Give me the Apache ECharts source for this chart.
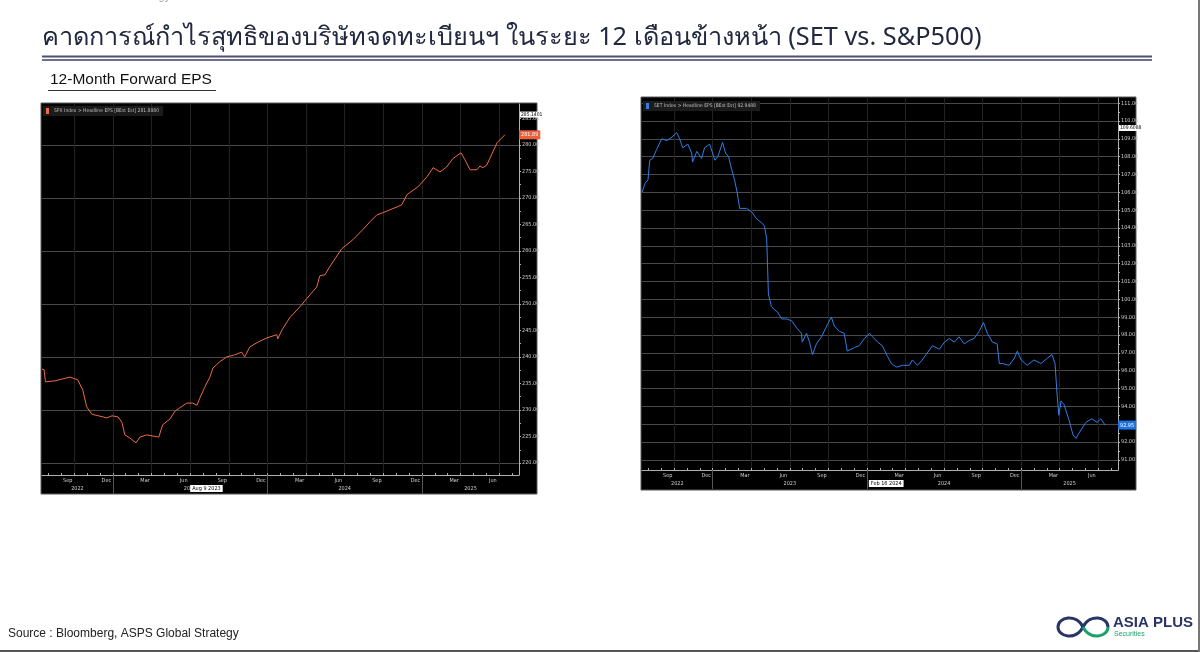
<!DOCTYPE html>
<html><head><meta charset="utf-8">
<script src="https://cdn.jsdelivr.net/npm/echarts@6/dist/echarts.min.js"></script>
<style>html,body{margin:0;padding:0;background:#fff}#c{width:1200px;height:652px}</style>
</head><body><div id="c"></div><script>
// ---- data ----
const monthNames = ['Jan','Feb','Mar','Apr','May','Jun','Jul','Aug','Sep','Oct','Nov','Dec'];
const xStartDate = '2022-07-16';
const xEndDate = '2025-08-17';

const spxName = 'SPX Index > Headline EPS [BEst Est]';
const spxDates = ['2022-07-16','2022-07-21','2022-07-24','2022-08-16','2022-09-21','2022-10-09','2022-10-21','2022-10-30','2022-11-12','2022-12-08','2022-12-17','2022-12-29','2023-01-13','2023-01-22','2023-01-29','2023-02-11','2023-02-25','2023-03-04','2023-03-20','2023-04-04','2023-04-18','2023-04-27','2023-05-14','2023-05-26','2023-06-07','2023-06-23','2023-07-07','2023-07-17','2023-07-24','2023-08-05','2023-08-17','2023-08-24','2023-09-10','2023-09-26','2023-10-15','2023-11-01','2023-11-08','2023-11-20','2023-12-09','2023-12-30','2024-01-23','2024-01-25','2024-02-05','2024-02-23','2024-03-16','2024-04-10','2024-04-26','2024-05-03','2024-05-15','2024-05-26','2024-06-24','2024-07-20','2024-08-13','2024-08-30','2024-09-16','2024-09-30','2024-11-03','2024-11-14','2024-11-26','2024-12-22','2025-01-13','2025-01-27','2025-02-13','2025-02-28','2025-03-13','2025-04-02','2025-04-11','2025-04-23','2025-05-09','2025-05-16','2025-05-23','2025-06-02','2025-06-26','2025-07-14'];
const spxEps = [237.7,237.6,235.3,235.5,236.2,235.7,233.8,230.6,229.2,228.7,228.5,228.9,228.7,227.7,225.3,224.7,223.8,224.9,225.3,225.1,224.9,227.2,228.3,229.8,230.4,231.3,231.3,230.9,232.3,234.3,236.2,237.9,239.1,240.0,240.4,240.9,240.0,241.9,242.8,243.6,244.2,243.4,245.1,247.4,249.4,251.7,253.2,255.3,255.5,257.0,260.4,262.1,264.0,265.5,266.8,267.2,268.3,268.7,270.6,272.1,274.0,275.7,274.9,275.8,277.4,278.5,277.2,275.3,275.3,276.0,275.7,276.2,280.4,281.888];
const spxHigh = 285.1401;
const spxYLabels = [220,225,230,235,240,245,250,255,260,265,270,275,280,285];
const spxYGrid = [220,230,240,250,260,270,280];
const spxTagDate = '2023-08-09';
const spxTagText = 'Aug 9 2023';

const setName = 'SET Index > Headline EPS [BEst Est]';
const setDates = ['2022-07-16','2022-07-23','2022-07-30','2022-08-04','2022-08-11','2022-08-20','2022-09-02','2022-09-14','2022-09-26','2022-10-07','2022-10-14','2022-10-21','2022-11-03','2022-11-12','2022-11-14','2022-11-24','2022-12-05','2022-12-12','2022-12-24','2023-01-06','2023-01-13','2023-01-24','2023-02-01','2023-02-08','2023-02-15','2023-02-22','2023-02-28','2023-03-04','2023-03-08','2023-03-20','2023-04-02','2023-04-14','2023-04-25','2023-05-02','2023-05-07','2023-05-09','2023-05-11','2023-05-18','2023-05-26','2023-06-02','2023-06-12','2023-06-23','2023-07-05','2023-07-17','2023-07-28','2023-07-30','2023-08-10','2023-08-17','2023-08-24','2023-09-03','2023-09-15','2023-09-29','2023-10-08','2023-10-15','2023-10-27','2023-11-08','2023-11-15','2023-12-02','2023-12-13','2023-12-25','2024-01-07','2024-01-14','2024-01-26','2024-02-07','2024-02-19','2024-02-28','2024-03-10','2024-03-24','2024-04-10','2024-04-17','2024-04-29','2024-05-10','2024-05-22','2024-06-04','2024-06-20','2024-07-02','2024-07-13','2024-07-25','2024-08-06','2024-08-18','2024-08-30','2024-09-11','2024-09-23','2024-10-03','2024-10-12','2024-10-24','2024-11-05','2024-11-10','2024-11-17','2024-12-03','2024-12-15','2024-12-22','2025-01-01','2025-01-15','2025-02-01','2025-02-17','2025-03-02','2025-03-13','2025-03-20','2025-03-25','2025-03-29','2025-04-04','2025-04-11','2025-04-23','2025-05-02','2025-05-09','2025-05-16','2025-06-02','2025-06-16','2025-06-28','2025-07-07','2025-07-17'];
const setEps = [106.0,106.5,106.7,107.8,107.9,108.4,109.0,108.9,109.1,109.35,109.0,108.5,108.7,108.2,107.7,108.3,107.9,108.5,108.7,107.8,108.0,108.8,108.2,108.0,107.3,106.7,106.0,105.1,105.2,105.1,104.9,104.5,104.3,104.1,103.4,101.9,100.3,99.6,99.4,99.3,98.9,98.9,98.8,98.4,98.1,97.6,98.1,97.6,96.9,97.5,97.9,98.6,99.0,98.5,98.2,98.1,97.1,97.3,97.4,97.8,98.1,97.9,97.6,97.4,96.8,96.4,96.2,96.3,96.3,96.6,96.3,96.6,97.0,97.4,97.2,97.6,97.8,97.6,97.9,97.5,97.7,97.8,98.2,98.7,98.1,97.6,97.5,96.4,96.4,96.3,96.7,97.1,96.6,96.3,96.6,96.4,96.7,96.9,96.4,94.6,93.5,94.3,94.1,93.2,92.4,92.2,92.5,93.1,93.3,93.1,93.3,92.9488];
const setHigh = 109.6088;
const setYLabels = [91,92,93,94,95,96,97,98,99,100,101,102,103,104,105,106,107,108,109,110,111];
const setYGrid = [91,92,93,94,95,96,97,98,99,100,101,102,103,104,105,106,107,108,109,110,111];
const setTagDate = '2024-02-16';
const setTagText = 'Feb 16 2024';

// ---- helpers ----
function toM(s){const p=s.split('-').map(Number);return (p[0]-2022)*12+(p[1]-1)+(p[2]-1)/30;}
const xMin = toM(xStartDate), xMax = toM(xEndDate);
const quarterStarts=[], monthStarts=[], monthLabelPos=[], yearBounds=[], yearMids=[];
for(let m=Math.ceil(xMin); m<=xMax; m++){
  monthStarts.push(m);
  if(m%3===0) quarterStarts.push(m);
  if(m%12===0) yearBounds.push(m);
  if(m%3===2 && m+0.5<=xMax) monthLabelPos.push(m+0.5);
}
for(let y=Math.floor(xMin/12); y<=Math.floor(xMax/12); y++){
  const lo=Math.max(xMin,y*12), hi=Math.min(xMax,(y+1)*12); yearMids.push((lo+hi)/2);
}
function halfSteps(arr, step){const out=[];for(let v=arr[0];v<=arr[arr.length-1]+1e-9;v+=step)out.push(+v.toFixed(3));return out;}

const lblFont = '"Liberation Sans Narrow","DejaVu Sans Condensed","Liberation Sans",Arial,sans-serif';
const gridCol = '#4a4a4a', vGridCol = '#222', axisCol = '#b0b0b0', lblCol = '#cfcfcf';

const grids = [
  {left:42, right:681, top:104, bottom:177, yMin:217.74, yMax:287.7, dates:spxDates, vals:spxEps, name:spxName, color:'#ec6a44', badge:'#e8603c', high:spxHigh, yLabels:spxYLabels, yGrid:spxYGrid, minor:2.5, tagDate:spxTagDate, tagText:spxTagText, hiAlign:'bottom', legendTop:106, legendLeft:43},
  {left:642, right:82, top:98, bottom:182, yMin:90.43, yMax:111.29, dates:setDates, vals:setEps, name:setName, color:'#2f7fe6', badge:'#1f73e0', high:setHigh, yLabels:setYLabels, yGrid:setYGrid, minor:0.5, tagDate:setTagDate, tagText:setTagText, hiAlign:'middle', legendTop:101, legendLeft:643}
];

const option = {animation:false, backgroundColor:'#fff', grid:[], xAxis:[], yAxis:[], series:[], legend:[], graphic:{elements:[]}};

grids.forEach((g,gi)=>{
  option.grid.push({left:g.left,right:g.right,top:g.top,bottom:g.bottom,containLabel:false});
  const base = {type:'value', gridIndex:gi, min:xMin, max:xMax, position:'bottom'};
  const xi = option.xAxis.length;
  option.xAxis.push(Object.assign({}, base, {
    axisLine:{show:true,onZero:false,lineStyle:{color:axisCol,width:1}},
    axisTick:{show:false,customValues:quarterStarts},
    splitLine:{show:true,lineStyle:{color:vGridCol,width:1}},
    axisLabel:{customValues:monthLabelPos,formatter:v=>monthNames[Math.floor(v)%12],color:lblCol,fontSize:5.5,margin:3,fontFamily:lblFont}
  }));
  option.xAxis.push(Object.assign({}, base, {
    axisLine:{show:false,onZero:false}, splitLine:{show:false},
    axisTick:{show:true,inside:true,length:2,customValues:monthStarts,lineStyle:{color:axisCol}},
    axisLabel:{show:false}
  }));
  option.xAxis.push(Object.assign({}, base, {
    axisLine:{show:false,onZero:false}, splitLine:{show:false},
    axisTick:{show:true,length:19,customValues:yearBounds,lineStyle:{color:'#555'}},
    axisLabel:{customValues:yearMids,formatter:v=>String(2022+Math.floor(v/12)),color:lblCol,fontSize:5.5,margin:11,fontFamily:lblFont}
  }));
  option.xAxis.push(Object.assign({}, base, {
    axisLine:{show:false,onZero:false}, splitLine:{show:false}, axisTick:{show:false},
    axisLabel:{customValues:[toM(g.tagDate)],formatter:()=>g.tagText,color:'#000',backgroundColor:'#fff',padding:[1,2,0,2],fontSize:5.5,margin:10,fontFamily:lblFont}
  }));
  const yi = option.yAxis.length;
  const ybase = {type:'value', gridIndex:gi, min:g.yMin, max:g.yMax, position:'right'};
  option.yAxis.push(Object.assign({}, ybase, {
    axisLine:{show:true,lineStyle:{color:axisCol}},
    axisTick:{show:false,customValues:g.yGrid},
    splitLine:{show:true,lineStyle:{color:gridCol,width:1}},
    axisLabel:{customValues:g.yLabels,formatter:v=>v.toFixed(2),color:lblCol,fontSize:5.5,margin:3,fontFamily:lblFont}
  }));
  option.yAxis.push(Object.assign({}, ybase, {
    axisLine:{show:false}, splitLine:{show:false},
    axisTick:{show:true,length:2,customValues:halfSteps(g.yLabels,g.minor),lineStyle:{color:axisCol}},
    axisLabel:{show:false}
  }));
  option.yAxis.push(Object.assign({}, ybase, {
    axisLine:{show:false}, splitLine:{show:false}, axisTick:{show:false},
    axisLabel:{customValues:[g.high],formatter:v=>v.toFixed(4),color:'#000',backgroundColor:'#fff',padding:[1,1,0,1],fontSize:5,margin:1,verticalAlign:g.hiAlign,fontFamily:lblFont}
  }));
  const last = g.vals[g.vals.length-1];
  option.yAxis.push(Object.assign({}, ybase, {
    axisLine:{show:false}, splitLine:{show:false}, axisTick:{show:false},
    axisLabel:{customValues:[last],formatter:v=>v.toFixed(2),color:'#fff',backgroundColor:g.badge,padding:[2,2,1,2],fontSize:5.5,margin:0,fontFamily:lblFont}
  }));
  option.series.push({
    type:'line', name:g.name, xAxisIndex:xi, yAxisIndex:yi, symbol:'none',
    lineStyle:{color:g.color,width:1}, itemStyle:{color:g.color},
    data:g.dates.map((d,i)=>[toM(d), g.vals[i]])
  });
  option.legend.push({
    data:[g.name], left:g.legendLeft, top:g.legendTop, orient:'horizontal', icon:'rect', itemWidth:3, itemHeight:6, itemGap:3,
    backgroundColor:'#1b1b1b', padding:[2,4,2,3], selectedMode:false,
    textStyle:{color:'#bdbdbd',fontSize:5,fontFamily:lblFont},
    formatter:n=>n+' '+last.toFixed(4)
  });
});

const E = option.graphic.elements;
E.push({type:'rect',z:-10,shape:{x:41,y:103,width:496,height:391},style:{fill:'#000',stroke:'#5a5a5a',lineWidth:1}});
E.push({type:'rect',z:-10,shape:{x:641,y:97,width:495,height:393},style:{fill:'#000',stroke:'#5a5a5a',lineWidth:1}});
E.push({type:'text',x:62,y:-9,style:{text:'ASPS Global Strategy',fill:'#9a9a9a',font:'11px "Liberation Sans", Arial, sans-serif'}});
E.push({type:'text',x:42,y:25,style:{text:'คาดการณ์กำไรสุทธิของบริษัทจดทะเบียนฯ ในระยะ 12 เดือนข้างหน้า (SET vs. S&P500)',fill:'#22283f',font:'25.3px "Noto Sans", "DejaVu Sans", sans-serif'}});
E.push({type:'rect',shape:{x:42,y:55.5,width:1110,height:2},style:{fill:'#4b5170'}});
E.push({type:'rect',shape:{x:42,y:59,width:1110,height:2},style:{fill:'#6b7090'}});
E.push({type:'text',x:50,y:72,style:{text:'12-Month Forward EPS',fill:'#111',font:'15.5px "Liberation Sans", Arial, sans-serif'}});
E.push({type:'rect',shape:{x:48,y:90,width:168,height:1},style:{fill:'#333'}});
E.push({type:'text',x:8,y:628,style:{text:'Source : Bloomberg, ASPS Global Strategy',fill:'#222',font:'12px "Liberation Sans", Arial, sans-serif'}});
const navy='#2a3566', green='#1aa06a';
E.push({type:'bezierCurve',shape:{x1:1083,y1:627,x2:1058,y2:627,cpx1:1076,cpy1:613,cpx2:1058,cpy2:617},style:{fill:'none',stroke:navy,lineWidth:3}});
E.push({type:'bezierCurve',shape:{x1:1058,y1:627,x2:1083,y2:627,cpx1:1058,cpy1:637,cpx2:1076,cpy2:641},style:{fill:'none',stroke:navy,lineWidth:3}});
E.push({type:'bezierCurve',shape:{x1:1083,y1:627,x2:1108,y2:627,cpx1:1090,cpy1:613,cpx2:1108,cpy2:617},style:{fill:'none',stroke:navy,lineWidth:3}});
E.push({type:'bezierCurve',shape:{x1:1108,y1:627,x2:1083,y2:627,cpx1:1108,cpy1:637,cpx2:1090,cpy2:641},style:{fill:'none',stroke:green,lineWidth:3}});
E.push({type:'text',x:1113,y:615,style:{text:'ASIA PLUS',fill:navy,font:'bold 15px "Liberation Sans", Arial, sans-serif'}});
E.push({type:'text',x:1114,y:631,style:{text:'Securities',fill:green,font:'7px "Liberation Sans", Arial, sans-serif'}});
E.push({type:'rect',shape:{x:0,y:650,width:1200,height:2},style:{fill:'#555'}});
E.push({type:'rect',shape:{x:1198,y:0,width:2,height:652},style:{fill:'#777'}});

const chart = echarts.init(document.getElementById('c'), null, {renderer:'canvas'});
chart.setOption(option);
</script></body></html>
